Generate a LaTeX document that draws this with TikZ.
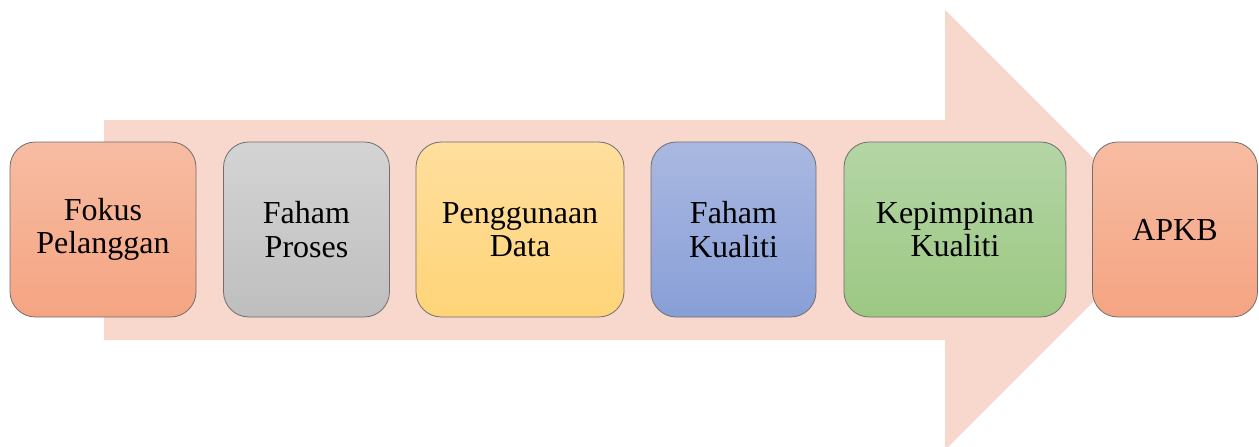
\documentclass[tikz,border=0pt]{standalone}
\usepackage{fontspec}
\setmainfont{Liberation Serif}
\usetikzlibrary{positioning}
\definecolor{arrowfill}{HTML}{F8D7CC}
\definecolor{edge}{HTML}{6F6F6F}
\definecolor{salmonT}{HTML}{F7BCA2}
\definecolor{salmonB}{HTML}{F5A482}
\definecolor{greyT}{HTML}{D4D4D4}
\definecolor{greyB}{HTML}{BEBEBE}
\definecolor{goldT}{HTML}{FFDF9E}
\definecolor{goldB}{HTML}{FFD478}
\definecolor{blueT}{HTML}{AAB8E1}
\definecolor{blueB}{HTML}{889FD7}
\definecolor{greenT}{HTML}{B4D5A5}
\definecolor{greenB}{HTML}{9CC883}

\begin{document}
\begin{tikzpicture}[x=0.75pt,y=-0.75pt,
  stage/.style={draw=edge, line width=0.6pt, rounded corners=19pt,
    minimum height=131.25pt, inner sep=0pt, align=center,
    font=\fontsize{24}{25}\selectfont}]
\clip (0,0) rectangle (1259,446);

% big arrow behind the stages
\fill[arrowfill] (104,120) -- (945,120) -- (945,10) -- (1165,230)
  -- (945,450) -- (945,340) -- (104,340) -- cycle;

\node[stage, minimum width=139.5pt, top color=salmonT, bottom color=salmonB]
  (fokus) at (103,229.5) {Fokus\\Pelanggan};
\node[stage, minimum width=124.5pt, top color=greyT, bottom color=greyB]
  (proses) at (306.5,229.5) {Faham\\Proses};
\node[stage, minimum width=156pt, top color=goldT, bottom color=goldB]
  (data) at (520,229.5) {Penggunaan\\Data};
\node[stage, minimum width=123.75pt, top color=blueT, bottom color=blueB]
  (kualiti) at (733.5,229.5) {Faham\\Kualiti};
\node[stage, minimum width=166.5pt, top color=greenT, bottom color=greenB]
  (pimpin) at (955,229.5) {Kepimpinan\\Kualiti};
\node[stage, minimum width=123.75pt, top color=salmonT, bottom color=salmonB]
  (apkb) at (1175,229.5) {APKB};
\end{tikzpicture}
\end{document}
